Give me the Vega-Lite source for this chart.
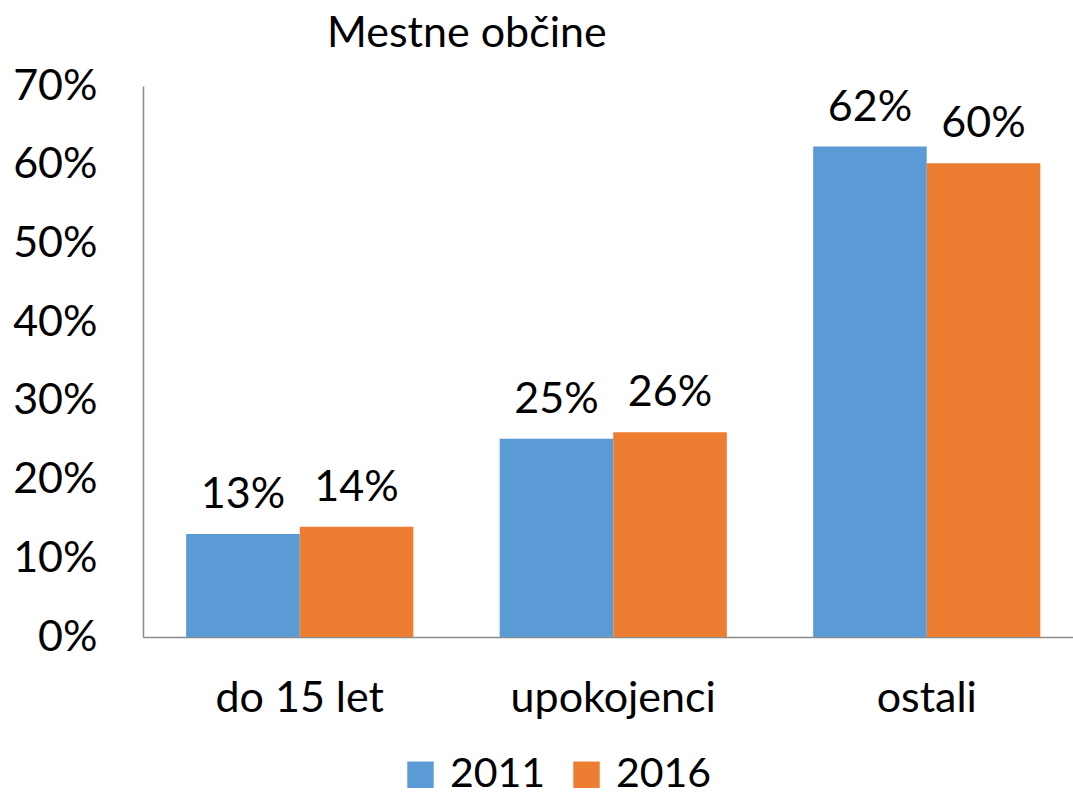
{
  "$schema": "https://vega.github.io/schema/vega-lite/v6.json",
  "width": 930,
  "height": 551,
  "autosize": {"type": "none"},
  "padding": {"left": 143, "top": 86, "right": 0, "bottom": 162},
  "background": "white",
  "config": {
    "font": "Lato",
    "view": {"stroke": null}
  },
  "title": {
    "text": "Mestne občine",
    "anchor": "start",
    "frame": "group",
    "dx": 184,
    "dy": 47,
    "fontSize": 43,
    "fontWeight": "normal",
    "font": "Lato",
    "color": "black",
    "baseline": "alphabetic",
    "offset": 22
  },
  "data": {
    "values": [
      {"kategorija": "do 15 let", "leto": "2011", "delez": 0.131},
      {"kategorija": "do 15 let", "leto": "2016", "delez": 0.140},
      {"kategorija": "upokojenci", "leto": "2011", "delez": 0.252},
      {"kategorija": "upokojenci", "leto": "2016", "delez": 0.260},
      {"kategorija": "ostali", "leto": "2011", "delez": 0.623},
      {"kategorija": "ostali", "leto": "2016", "delez": 0.602}
    ]
  },
  "encoding": {
    "x": {
      "field": "kategorija",
      "type": "nominal",
      "sort": ["do 15 let", "upokojenci", "ostali"],
      "scale": {"paddingInner": 0, "paddingOuter": 0, "range": [0, 940.5]},
      "axis": {
        "title": null,
        "labelAngle": 0,
        "labelFontSize": 43,
        "labelColor": "black",
        "labelFont": "Lato",
        "labelLimit": 0,
        "ticks": false,
        "domainColor": "#8c8c8c",
        "domainWidth": 1.5,
        "labelPadding": 40
      }
    },
    "xOffset": {
      "field": "leto",
      "type": "nominal",
      "scale": {"paddingInner": 0, "paddingOuter": 0.38}
    },
    "y": {
      "field": "delez",
      "type": "quantitative",
      "scale": {"domain": [0, 0.7]},
      "axis": {
        "title": null,
        "values": [0, 0.1, 0.2, 0.3, 0.4, 0.5, 0.6, 0.7],
        "format": ".0%",
        "labelFontSize": 43,
        "labelColor": "black",
        "labelFont": "Lato",
        "ticks": false,
        "grid": false,
        "domainColor": "#8c8c8c",
        "domainWidth": 1.5,
        "labelPadding": 46
      }
    }
  },
  "layer": [
    {
      "mark": {"type": "bar"},
      "encoding": {
        "color": {
          "field": "leto",
          "type": "nominal",
          "scale": {"domain": ["2011", "2016"], "range": ["#5B9BD5", "#ED7D31"]},
          "legend": {
            "title": null,
            "orient": "none",
            "direction": "horizontal",
            "legendX": 257,
            "legendY": 668,
            "symbolType": "square",
            "symbolSize": 700,
            "symbolStrokeWidth": 0,
            "labelFontSize": 41,
            "labelFont": "Lato",
            "labelColor": "black",
            "labelOffset": 9,
            "columnPadding": 20
          }
        }
      }
    },
    {
      "mark": {"type": "text", "fontSize": 43, "font": "Lato", "color": "black", "baseline": "alphabetic", "dy": -26},
      "encoding": {
        "text": {"field": "delez", "type": "quantitative", "format": ".0%"}
      }
    }
  ]
}
